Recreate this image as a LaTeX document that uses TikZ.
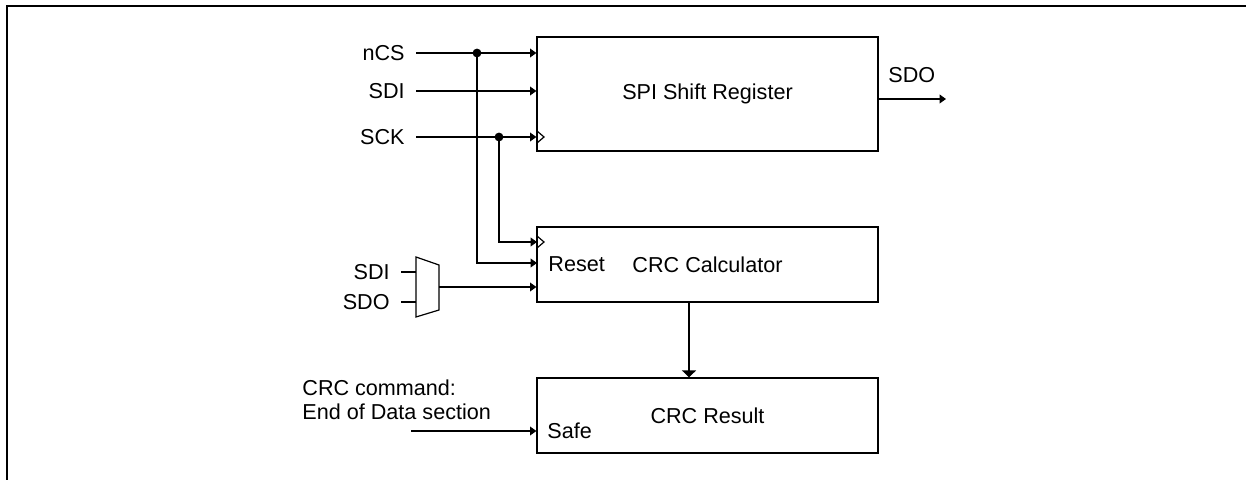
\documentclass[tikz,border=0pt]{standalone}
\usepackage{fontspec}
\setmainfont{Liberation Sans}
\usetikzlibrary{arrows.meta,calc}
\begin{document}
\begin{tikzpicture}[x=0.5pt,y=-0.5pt,
  font=\fontsize{10.8}{12}\selectfont,
  blk/.style={draw,line width=0.6pt,inner sep=0,minimum width=170.5pt},
  sig/.style={line width=0.6pt},
  arr/.style={sig,-{Triangle[length=3.2pt,width=4.4pt]}},
  bigarr/.style={sig,-{Triangle[length=3.5pt,width=7pt]}},
  lbl/.style={inner sep=0,anchor=east},
  wlbl/.style={inner sep=0,anchor=west},
  jdot/.style={circle,fill,inner sep=0,minimum size=4.4pt}]
\useasboundingbox (0,0) rectangle (1246,480);
\draw[line width=1pt] (7,480) -- (7,6) -- (1246,6);

% blocks
\node[blk,minimum height=57pt] (spi) at (707.5,94) {SPI Shift Register};
\node[blk,minimum height=37.5pt] (calc) at (707.5,264.5) {CRC Calculator};
\node[blk,minimum height=37.5pt] (res) at (707.5,415.5) {CRC Result};
\node[wlbl] (reset) at (548,264) {Reset};
\node[wlbl] (safe) at (547,431) {Safe};

% SPI inputs
\node[lbl] (ncs) at (405,53) {nCS};
\node[lbl] (sdi) at (405,91) {SDI};
\node[lbl] (sck) at (405,137) {SCK};
\coordinate (ncsS) at (416,53);
\coordinate (sdiS) at (416,91);
\coordinate (sckS) at (416,137);
\draw[arr] (ncsS) -- (spi.west |- ncsS);
\draw[arr] (sdiS) -- (spi.west |- sdiS);
\draw[arr] (sckS) -- (spi.west |- sckS);
% clock marks
\draw[sig] (537,131) -- (544,137) -- (537,143);
\draw[sig] (537,236) -- (544,242) -- (537,248);

% junctions
\node[jdot] (j1) at (477,53) {};
\node[jdot] (j2) at (499,137) {};
\coordinate (rstIn) at (537,263);
\coordinate (clkIn) at (537,242);
\draw[arr] (j1.center) |- (rstIn);
\draw[arr] (j2.center) |- (clkIn);

% mux
\coordinate (muxOut) at (439,287);
\draw[sig] (416,257) -- (439,265) -- (439,310) -- (416,317) -- cycle;
\draw[sig] (401,272) -- (416,272);
\draw[sig] (401,302) -- (416,302);
\node[lbl] (msdi) at (390,272) {SDI};
\node[lbl] (msdo) at (390,302) {SDO};
\draw[arr] (muxOut) -- (calc.west |- muxOut);

% SDO output
\coordinate (sdoOut) at (946,99);
\draw[arr] (spi.east |- sdoOut) -- (sdoOut);
\node[wlbl] (sdolbl) at (888,75) {SDO};

% calc -> result
\draw[bigarr] (calc.south -| 689,0) -- (res.north -| 689,0);

% CRC command
\node[wlbl,align=left] (cmd) at (302,400) {CRC command:\\End of Data section};
\coordinate (cmdS) at (411,431);
\draw[arr] (cmdS) -- (res.west |- cmdS);
\end{tikzpicture}
\end{document}
